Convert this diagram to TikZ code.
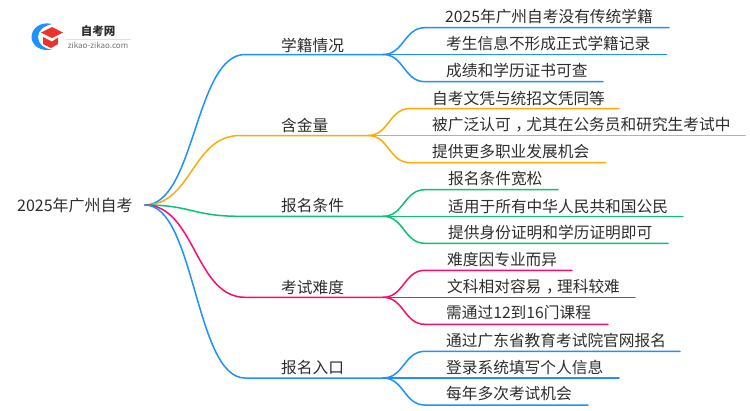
\documentclass[tikz,border=0pt]{standalone}
\usepackage{fontspec}
\setmainfont{Noto Sans CJK SC}
\usepackage{xcolor}
\definecolor{ColA}{RGB}{30,144,255}
\definecolor{ColB}{RGB}{255,170,10}
\definecolor{ColC}{RGB}{10,195,115}
\definecolor{ColD}{RGB}{255,10,110}
\definecolor{ColE}{RGB}{235,50,45}
\definecolor{ColT}{RGB}{45,45,45}
\newcommand{\MidComma}{\hspace{.3em}，\hspace{-.3em}}
\tikzstyle{NodeT}=[anchor=west,inner sep=0pt,text=ColT,font=\fontsize{15.7}{16}\selectfont]
\tikzstyle{EdgeA}=[draw=ColA,line width=1.5pt,line cap=round]
\tikzstyle{EdgeB}=[draw=ColB,line width=1.5pt,line cap=round]
\tikzstyle{EdgeC}=[draw=ColC,line width=1.5pt,line cap=round]
\tikzstyle{EdgeD}=[draw=ColD,line width=1.5pt,line cap=round]
\begin{document}
\begin{tikzpicture}[x=1pt,y=-1pt]
    \useasboundingbox(0,0)rectangle(750,410);
    % logo
    \fill[ColA](52,24)..controls(40,21)and(31.5,29)..(31.5,37)
        ..controls(31.5,45)and(40,52)..(52,49.5)
        ..controls(44,49)and(38,44)..(38,37)
        ..controls(38,30)and(44,26)..(52,24)--cycle;
    \fill[ColE](52,27)--(63,32.5)--(52,38)--(41,32.5)--cycle;
    \fill[ColE](43,37)--(52,41.5)--(58,37.5)--(58,44)--(51,48)--(43,44)--cycle;
    \node[text=ColT,font=\fontsize{11.5}{12}\selectfont\bfseries](logo1)at(98,31){自考网};
    \draw[black!12,line width=.6pt](66,39)--(131,39);
    \node[text=black!55,font=\fontsize{8}{8}\selectfont](logo2)at(98,45){zikao-zikao.com};
    % root
    \node[NodeT,font=\fontsize{16}{16}\selectfont](0)at(17,205){2025年广州自考};
    \coordinate(r)at(145,205);
    % branches
    \node[NodeT](1)at(281,45){学籍情况};
    \node[NodeT](2)at(281,125){含金量};
    \node[NodeT](3)at(281,206){报名条件};
    \node[NodeT](4)at(281,287){考试难度};
    \node[NodeT](5)at(281,368){报名入口};
    \coordinate(1s)at(245,54.5);\coordinate(1e)at(383,54.5);
    \coordinate(2s)at(240,135.5);\coordinate(2e)at(368,135.5);
    \coordinate(3s)at(240,216.3);\coordinate(3e)at(383,216.3);
    \coordinate(4s)at(245,297.3);\coordinate(4e)at(383,297.3);
    \coordinate(5s)at(245,378);\coordinate(5e)at(383,378);
    \draw[EdgeA](r)..controls(195,205)and(195,54.5)..(1s)--(1e);
    \draw[EdgeB](r)..controls(192,205)and(192,135.5)..(2s)--(2e);
    \draw[EdgeC](r)..controls(192,205)and(192,216.3)..(3s)--(3e);
    \draw[EdgeD](r)..controls(195,205)and(195,297.3)..(4s)--(4e);
    \draw[EdgeA](r)..controls(195,205)and(195,378)..(5s)--(5e);
    % leaves
    \node[NodeT](11)at(445,17){2025年广州自考没有传统学籍};
    \node[NodeT](12)at(446,44){考生信息不形成正式学籍记录};
    \node[NodeT](13)at(446,71){成绩和学历证书可查};
    \coordinate(11s)at(425,27.7);\coordinate(11e)at(669,27.7);
    \coordinate(12e)at(666.7,54.5);
    \coordinate(13s)at(425,81.7);\coordinate(13e)at(603,81.7);
    \draw[EdgeA](1e)..controls(404,54.5)and(404,27.7)..(11s)--(11e);
    \draw[EdgeA](1e)--(12e);
    \draw[EdgeA](1e)..controls(404,54.5)and(404,81.7)..(13s)--(13e);
    \node[NodeT](21)at(432,98){自考文凭与统招文凭同等};
    \node[NodeT](22)at(432,125){被广泛认可\MidComma 尤其在公务员和研究生考试中};
    \node[NodeT](23)at(432,152){提供更多职业发展机会};
    \coordinate(21s)at(410,108.5);\coordinate(21e)at(619,108.5);
    \coordinate(22e)at(745,135.5);
    \coordinate(23s)at(410,162.7);\coordinate(23e)at(605.7,162.7);
    \draw[EdgeB](2e)..controls(389,135.5)and(389,108.5)..(21s)--(21e);
    \draw[EdgeB](2e)--(22e);
    \draw[EdgeB](2e)..controls(389,135.5)and(389,162.7)..(23s)--(23e);
    \node[NodeT](31)at(448,179){报名条件宽松};
    \node[NodeT](32)at(448,206.7){适用于所有中华人民共和国公民};
    \node[NodeT](33)at(448,232.7){提供身份证明和学历证明即可};
    \coordinate(31s)at(425,189.7);\coordinate(31e)at(558,189.7);
    \coordinate(32e)at(683,216.3);
    \coordinate(33s)at(425,243.3);\coordinate(33e)at(668,243.3);
    \draw[EdgeC](3e)..controls(404,216.3)and(404,189.7)..(31s)--(31e);
    \draw[EdgeC](3e)--(32e);
    \draw[EdgeC](3e)..controls(404,216.3)and(404,243.3)..(33s)--(33e);
    \node[NodeT](41)at(447,260){难度因专业而异};
    \node[NodeT](42)at(447,287){文科相对容易\MidComma 理科较难};
    \node[NodeT](43)at(446,313){需通过12到16门课程};
    \coordinate(41s)at(425,270.3);\coordinate(41e)at(572,270.3);
    \coordinate(42e)at(635,297.3);
    \coordinate(43s)at(425,324.3);\coordinate(43e)at(608,324.3);
    \draw[EdgeD](4e)..controls(404,297.3)and(404,270.3)..(41s)--(41e);
    \draw[EdgeD](4e)--(42e);
    \draw[EdgeD](4e)..controls(404,297.3)and(404,324.3)..(43s)--(43e);
    \node[NodeT](51)at(446,341){通过广东省教育考试院官网报名};
    \node[NodeT](52)at(446,367){登录系统填写个人信息};
    \node[NodeT](53)at(446,394){每年多次考试机会};
    \coordinate(51s)at(425,351.3);\coordinate(51e)at(680,351.3);
    \coordinate(52e)at(619,378);
    \coordinate(53s)at(425,405);\coordinate(53e)at(588,405);
    \draw[EdgeA](5e)..controls(404,378)and(404,351.3)..(51s)--(51e);
    \draw[EdgeA](5e)--(52e);
    \draw[EdgeA](5e)..controls(404,378)and(404,405)..(53s)--(53e);
\end{tikzpicture}
\end{document}
